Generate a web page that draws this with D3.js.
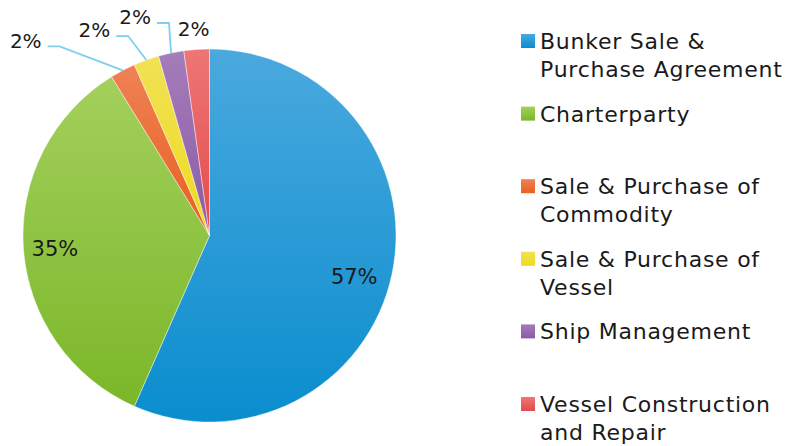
<!DOCTYPE html>
<html>
<head>
<meta charset="utf-8">
<script src="https://cdn.jsdelivr.net/npm/d3@7/dist/d3.min.js"></script>
<style>
  html, body { margin: 0; padding: 0; background: #ffffff; }
  svg { display: block; }
  text { font-family: "DejaVu Sans", sans-serif; fill: #1a1a1a; }
</style>
</head>
<body>
<svg id="chart" width="790" height="446"></svg>
<script>
// ---- data ----
const categories = [
  "Bunker Sale & Purchase Agreement",
  "Charterparty",
  "Sale & Purchase of Commodity",
  "Sale & Purchase of Vessel",
  "Ship Management",
  "Vessel Construction and Repair"
];
const shares = [56.6, 34.6, 2.2, 2.2, 2.2, 2.2];

// ---- style / layout ----
const colorsTop    = ["#4aa9de", "#a3d05c", "#ef8155", "#f1e155", "#a57dba", "#ee7676"];
const colorsBottom = ["#0a8dce", "#7bb729", "#e8601e", "#eedb1e", "#8a5aa6", "#e44a4a"];
// label placement: inside labels use an inner radius; outside labels offset from outer arc point
const labelInside  = [true, true, false, false, false, false];
const labelOffset  = [[-4, 10], [-3, 2], [-97, -30], [-52, -30], [-36, -36], [-3, -21]];
const hasLeader    = [false, false, true, true, true, false];

const width = 790, height = 446;
const cx = 209.5, cy = 235.5, radius = 186.5;

const svg = d3.select("#chart");
const defs = svg.append("defs");

categories.forEach((c, i) => {
  const g = defs.append("linearGradient")
    .attr("id", "grad" + i)
    .attr("x1", 0).attr("y1", 0).attr("x2", 0).attr("y2", 1);
  g.append("stop").attr("offset", "0%").attr("stop-color", colorsTop[i]);
  g.append("stop").attr("offset", "100%").attr("stop-color", colorsBottom[i]);
});

const pie = d3.pie().sort(null).value(d => d.value);
const data = categories.map((c, i) => ({ name: c, value: shares[i], i }));
const arcs = pie(data);

const arc = d3.arc().innerRadius(0).outerRadius(radius);
const labelArc = d3.arc().innerRadius(152).outerRadius(152);
const outerArc = d3.arc().innerRadius(radius).outerRadius(radius);

const gPie = svg.append("g").attr("transform", `translate(${cx},${cy})`);

gPie.selectAll("path.slice")
  .data(arcs)
  .join("path")
  .attr("class", "slice")
  .attr("d", arc)
  .attr("fill", d => `url(#grad${d.data.i})`)
  .attr("stroke", "rgba(255,255,255,0.6)")
  .attr("stroke-width", 0.7);

const fmt = v => Math.round(v) + "%";

// inside labels
gPie.selectAll("text.inlabel")
  .data(arcs.filter(d => labelInside[d.data.i]))
  .join("text")
  .attr("class", "inlabel")
  .attr("x", d => labelArc.centroid(d)[0] + labelOffset[d.data.i][0])
  .attr("y", d => labelArc.centroid(d)[1] + labelOffset[d.data.i][1])
  .attr("dy", "0.36em")
  .attr("text-anchor", "middle")
  .style("font-size", "21px")
  .text(d => fmt(d.data.value));

// outside labels with leader lines
const outside = arcs.filter(d => !labelInside[d.data.i]);
outside.forEach(d => {
  const p = outerArc.centroid(d);
  const off = labelOffset[d.data.i];
  const tx = p[0] + off[0], ty = p[1] + off[1];
  const t = gPie.append("text")
    .attr("x", tx).attr("y", ty)
    .attr("dy", "0.36em")
    .attr("text-anchor", "middle")
    .style("font-size", "20px")
    .text(fmt(d.data.value));
  if (hasLeader[d.data.i]) {
    const bb = t.node().getBBox();
    const right = bb.x + bb.width;
    const ly = ty + 6;
    const line = d3.line();
    gPie.append("path")
      .attr("d", line([p, [right + 18, ly], [right + 6, ly]]))
      .attr("fill", "none")
      .attr("stroke", "#7fcff0")
      .attr("stroke-width", 1.8);
  }
});

// ---- legend ----
const legendY = d3.scalePoint().domain(categories).range([49, 412]);
const legendX = 521, textX = 540, lineH = 28, maxW = 255;

const gLeg = svg.append("g");
categories.forEach((c, i) => {
  const base = legendY(c);
  gLeg.append("rect")
    .attr("x", legendX).attr("y", base - 15)
    .attr("width", 14).attr("height", 14)
    .attr("fill", `url(#grad${i})`);
  const t = gLeg.append("text")
    .attr("x", textX).attr("y", base)
    .style("font-size", "22px")
    .style("letter-spacing", "0.75px");
  // word wrap
  const words = c.split(" ");
  let line = [];
  let ts = t.append("tspan").attr("x", textX).attr("y", base);
  let ln = 0;
  words.forEach(w => {
    line.push(w);
    ts.text(line.join(" "));
    if (ts.node().getComputedTextLength() > maxW && line.length > 1) {
      line.pop();
      ts.text(line.join(" "));
      line = [w];
      ln++;
      ts = t.append("tspan").attr("x", textX).attr("y", base + ln * lineH).text(w);
    }
  });
});
</script>
</body>
</html>
